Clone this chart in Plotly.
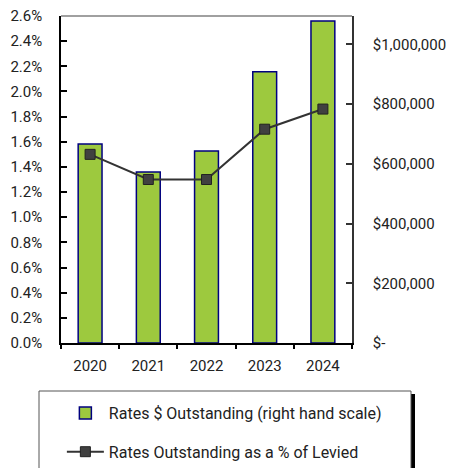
import plotly.graph_objects as go

# 데이터
years = ["2020", "2021", "2022", "2023", "2024"]
rates_outstanding = [666000, 573000, 643000, 908000, 1078000]   # $
pct_of_levied = [1.50, 1.30, 1.30, 1.70, 1.86]                  # %

dollar_ticks = [0, 200000, 400000, 600000, 800000, 1000000]
dollar_labels = ["$-", "$200,000", "$400,000", "$600,000", "$800,000", "$1,000,000"]

FONT = "Roboto, Arial, sans-serif"
TXT = "#222222"

fig = go.Figure()

# 막대 (오른쪽 축) - 기본 y축에 두어 선이 위에 그려지도록 함
fig.add_trace(go.Bar(
    x=years,
    y=rates_outstanding,
    name="Rates $ Outstanding (right hand scale)",
    marker=dict(color="#9DC93E", line=dict(color="#00007F", width=1.5)),
    yaxis="y",
    legendgroup="a",
))

# 선 (왼쪽 축)
fig.add_trace(go.Scatter(
    x=years,
    y=pct_of_levied,
    name="Rates Outstanding as a % of Levied",
    mode="lines+markers",
    line=dict(color="#333333", width=2),
    marker=dict(symbol="square", size=10, color="#404040",
                line=dict(color="#222222", width=1)),
    yaxis="y2",
    legendgroup="b",
))

# 범례 박스 + 그림자
fig.add_shape(type="rect", xref="paper", yref="paper",
              x0=(42 - 61) / 291, x1=(415 - 61) / 291,
              y0=(343 - 480) / 327, y1=(343 - 394) / 327,
              fillcolor="black", line=dict(width=0))
fig.add_shape(type="rect", xref="paper", yref="paper",
              x0=(39 - 61) / 291, x1=(411 - 61) / 291,
              y0=(343 - 480) / 327, y1=(343 - 391) / 327,
              fillcolor="white", line=dict(color="#555555", width=1))
# 위쪽 테두리
fig.add_shape(type="line", xref="paper", yref="paper",
              x0=0, x1=1, y0=1, y1=1,
              line=dict(color="#808080", width=1.5))

fig.update_layout(
    width=454,
    height=468,
    margin=dict(l=61, r=102, t=16, b=125, autoexpand=False),
    plot_bgcolor="white",
    paper_bgcolor="white",
    font=dict(family=FONT, size=15, color=TXT),
    bargap=0.59,
    showlegend=True,
    legend=dict(
        x=0.003, y=(343 - 396) / 327, xanchor="left", yanchor="top",
        bgcolor="rgba(0,0,0,0)", borderwidth=0,
        font=dict(family=FONT, size=16, color=TXT),
        itemwidth=37,
        tracegroupgap=15,
        traceorder="grouped",
    ),
    xaxis=dict(
        showline=True, linecolor="black", linewidth=1.5,
        ticks="outside", ticklen=4, tickcolor="black", tickwidth=1.5,
        tickson="boundaries",
        showgrid=False,
        ticklabelstandoff=8,
        automargin=False,
    ),
    yaxis=dict(
        side="right",
        range=[0, 1095000],
        tickvals=dollar_ticks,
        ticktext=dollar_labels,
        showline=True, linecolor="#333333", linewidth=1.5,
        ticks="inside", ticklen=6, tickcolor="#333333", tickwidth=1.5,
        showgrid=False, zeroline=False,
        ticklabelstandoff=16,
        automargin=False,
    ),
    yaxis2=dict(
        side="left",
        overlaying="y",
        range=[0, 2.6],
        dtick=0.2,
        tickformat=".1f",
        ticksuffix="%",
        showline=True, linecolor="black", linewidth=1.5,
        ticks="inside", ticklen=6, tickcolor="black", tickwidth=1.5,
        showgrid=False, zeroline=False,
        ticklabelstandoff=14,
        automargin=False,
    ),
)

# 브라우저 기본 body 여백 제거, 모드바 숨김
fig.write_html("out.html", config={"displayModeBar": False},
               post_script="document.body.style.margin='0';")
